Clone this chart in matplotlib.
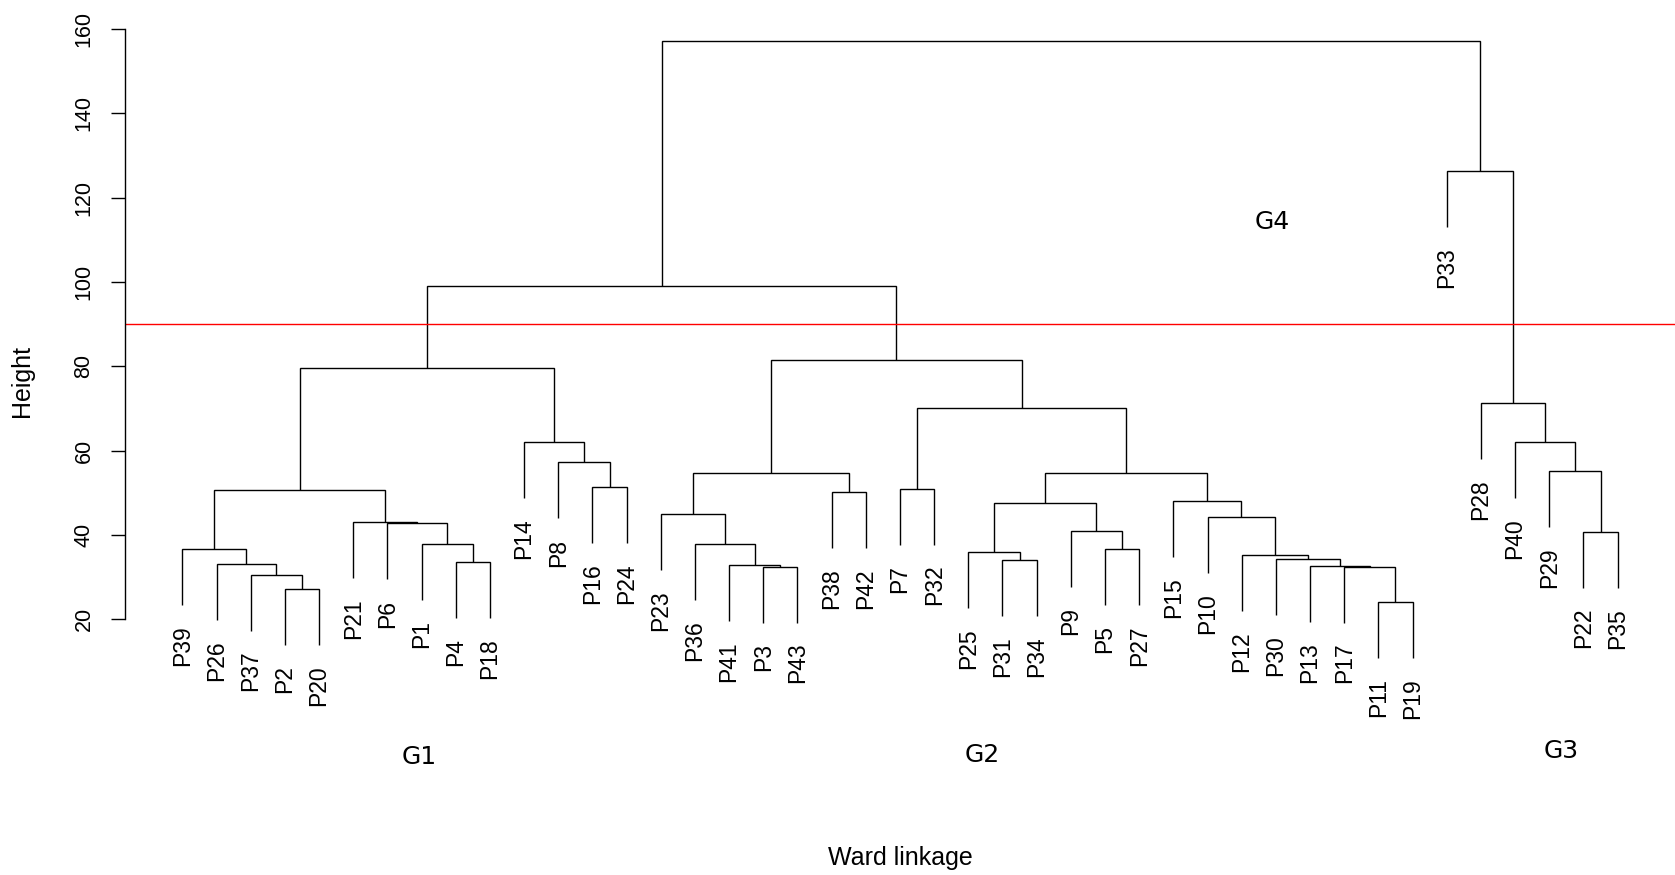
import matplotlib.pyplot as plt

plt.rcParams["font.family"] = ["Liberation Sans", "DejaVu Sans"]

# leaf order along the x axis
leaves = ["P39", "P26", "P37", "P2", "P20", "P21", "P6", "P1", "P4", "P18",
          "P14", "P8", "P16", "P24", "P23", "P36", "P41", "P3", "P43", "P38",
          "P42", "P7", "P32", "P25", "P31", "P34", "P9", "P5", "P27", "P15",
          "P10", "P12", "P30", "P13", "P17", "P11", "P19", "P33", "P28", "P40",
          "P29", "P22", "P35"]

# merge steps: a string is a leaf, an int n is the n-th merge (1-based)
merge_left = ["P2", "P37", "P26", "P39", "P4", "P1", "P6", "P21", 4, "P16",
              "P8", "P14", 9, "P3", "P41", "P36", "P23", "P38", 17, "P7",
              "P31", "P25", "P5", "P9", 22, "P11", "P17", "P13", "P30", "P12",
              "P10", "P15", 25, 20, 19, 13, "P22", "P29", "P40", "P28",
              "P33", 36]
merge_right = ["P20", 1, 2, 3, "P18", 5, 6, 7, 8, "P24",
               10, 11, 12, "P43", 14, 15, 16, "P42", 18, "P32",
               "P34", 21, "P27", 23, 24, "P19", 26, 27, 28, 29,
               30, 31, 32, 33, 34, 35, "P35", 37, 38, 39,
               40, 41]
merge_height = [27.1, 30.6, 33.2, 36.7, 33.6, 37.8, 42.75, 43.1, 50.6, 51.4,
                57.2, 62.0, 79.6, 32.5, 32.9, 37.8, 45.0, 50.2, 54.6, 51.0,
                34.0, 35.9, 36.7, 40.9, 47.7, 24.2, 32.5, 32.7, 34.4, 35.2,
                44.2, 48.0, 54.8, 70.1, 81.5, 99.0, 40.8, 55.2, 62.1, 71.2,
                126.2, 157.0]

cut_height = 90
group_names = ["G1", "G2", "G3", "G4"]
group_x = [7.92, 24.42, 41.36, 32.88]
group_y = [-12.6, -12.1, -11.2, 114.2]

fig = plt.figure(figsize=(16.75, 8.75), dpi=100)
ax = fig.add_axes([0.0746, 0.2, 0.9254, 0.8])

leaf_pos = {name: i + 1 for i, name in enumerate(leaves)}
hang = 0.1 * (max(merge_height) - min(merge_height))
node_x = []
leaf_end = {}


def child_point(c, h):
    if isinstance(c, int):
        return node_x[c - 1], merge_height[c - 1]
    leaf_end[c] = h - hang
    return leaf_pos[c], h - hang


# draw the dendrogram
for left, right, h in zip(merge_left, merge_right, merge_height):
    xl, yl = child_point(left, h)
    xr, yr = child_point(right, h)
    ax.plot([xl, xl, xr, xr], [yl, h, h, yr], color="black", lw=1.0,
            solid_joinstyle="miter", solid_capstyle="butt")
    node_x.append((xl + xr) / 2)

# leaf labels hanging below each branch
for name in leaves:
    ax.annotate(name, (leaf_pos[name], leaf_end[name]), xytext=(0, -14.5),
                textcoords="offset points", rotation=90, ha="center", va="top",
                fontsize=16.5, annotation_clip=False)

# cut line
ax.axhline(cut_height, color="red", lw=1.0)

# group names
for g, gx, gy in zip(group_names, group_x, group_y):
    ax.text(gx, gy, g, ha="center", va="center", fontsize=18,
            family="DejaVu Sans", clip_on=False)

ax.set_xlim(-0.68, 44.68)
ax.set_ylim(0.894, 166.83)
ax.set_xticks([])
ax.set_yticks(range(20, 161, 20))
for s in ["top", "right", "bottom"]:
    ax.spines[s].set_visible(False)
ax.spines["left"].set_bounds(20, 160)
ax.spines["left"].set_linewidth(1.0)
ax.tick_params(axis="y", length=10, width=1.0, pad=12, labelsize=15.5)
for lab in ax.get_yticklabels():
    lab.set_rotation(90)
    lab.set_va("center")
    lab.set_ha("right")

fig.text(21.7 / 1675, 1 - 381 / 875, "Height", rotation=90,
         ha="center", va="center", fontsize=18)
fig.text(900 / 1675, 1 - 858 / 875, "Ward linkage",
         ha="center", va="center", fontsize=18)

plt.savefig("out.png", dpi=100)
